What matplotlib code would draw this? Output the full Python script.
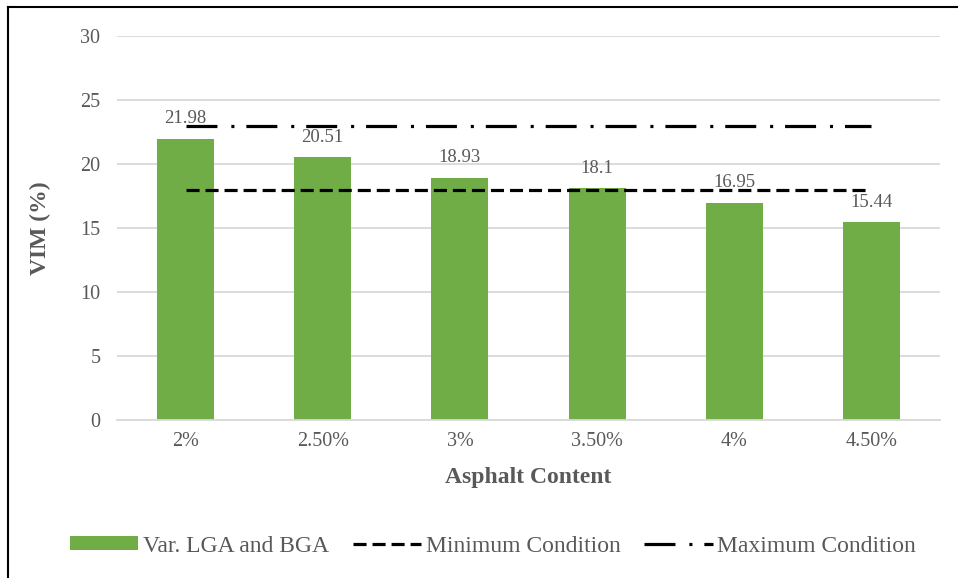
import matplotlib
matplotlib.use('Agg')
import matplotlib.pyplot as plt
from matplotlib.lines import Line2D
import numpy as np

# === Dados ===
categorias = ['2%', '2.50%', '3%', '3.50%', '4%', '4.50%']
vim = [21.98, 20.51, 18.93, 18.1, 16.95, 15.44]
rotulos = ['21.98', '20.51', '18.93', '18.1', '16.95', '15.44']
cond_min = [18, 18, 18, 18, 18, 18]
cond_max = [23, 23, 23, 23, 23, 23]
yticks = [0, 5, 10, 15, 20, 25, 30]

# === Estilo ===
plt.rcParams['font.family'] = ['Liberation Serif', 'DejaVu Serif']
plt.rcParams['lines.scale_dashes'] = False
cinza = '#595959'
verde = '#70AD47'

fig = plt.figure(figsize=(9.58, 5.78), dpi=100)
ax = fig.add_axes([117 / 958, 1 - 420 / 578, 823 / 958, 384 / 578])

x = np.arange(len(categorias))
barras = ax.bar(x, vim, width=0.415, color=verde, zorder=2,
                label='Var. LGA and BGA')
l_min, = ax.plot(x, cond_min, color='black', lw=2.3, linestyle=(0, (9.4, 4.3)),
                 zorder=3, label='Minimum Condition')
l_max, = ax.plot(x, cond_max, color='black', lw=2.3,
                 linestyle=(0, (22.3, 10, 2.2, 8.6)), zorder=3,
                 label='Maximum Condition')

# rótulos de dados
for xi, v, r in zip(x, vim, rotulos):
    ax.annotate(r, (xi, v), xytext=(0, 14.5), textcoords='offset points',
                ha='center', va='center', fontsize=13.5, color=cinza, zorder=4)

# === Eixos ===
ax.set_xlim(-0.5, len(categorias) - 0.5)
ax.set_ylim(0, 30)
ax.set_yticks(yticks)
ax.set_xticks(x)
ax.set_xticklabels(categorias)
ax.tick_params(axis='both', length=0, labelsize=14.5, labelcolor=cinza)
ax.tick_params(axis='y', pad=12)
ax.tick_params(axis='x', pad=9)
ax.yaxis.grid(True, color='#D9D9D9', lw=1.3, zorder=0)
ax.set_axisbelow(True)
for s in ['top', 'right', 'left']:
    ax.spines[s].set_visible(False)
ax.spines['bottom'].set_color('#D9D9D9')
ax.spines['bottom'].set_linewidth(1.3)

fig.text(40 / 958, 1 - 228 / 578, 'VIM (%)', rotation=90, ha='center',
         va='center', fontsize=17, fontweight='bold', color=cinza)
fig.text(528 / 958, 1 - 478 / 578, 'Asphalt Content', ha='center',
         va='center', fontsize=17, fontweight='bold', color=cinza)

# === Legenda ===
leg = fig.legend(handles=[barras, l_min, l_max],
                 loc='center', bbox_to_anchor=(493 / 958, 1 - 546 / 578),
                 ncol=3, frameon=False, fontsize=17, handlelength=2.9,
                 handleheight=0.55, handletextpad=0.2, columnspacing=1.0,
                 labelcolor=cinza)

# moldura
fig.add_artist(Line2D([8 / 958, 8 / 958], [0, 1 - 7 / 578], color='black', lw=1.5))
fig.add_artist(Line2D([8 / 958, 1], [1 - 7 / 578, 1 - 7 / 578], color='black', lw=1.5))

plt.savefig('out.png', dpi=100)
